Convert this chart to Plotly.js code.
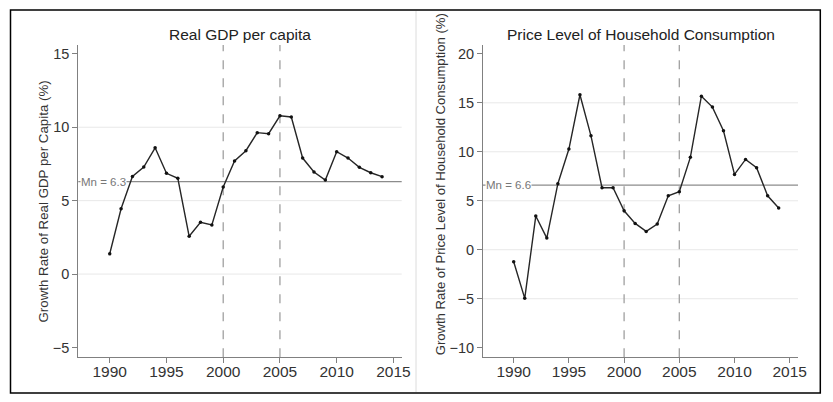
<!DOCTYPE html>
<html>
<head>
<meta charset="utf-8">
<script src="https://cdn.plot.ly/plotly-3.0.1.min.js"></script>
<style>html,body{margin:0;padding:0;background:#fff;}#chart{width:833px;height:402px;}</style>
</head>
<body>
<div id="chart"></div>
<script>
// ---- data ----
const years = [1990,1991,1992,1993,1994,1995,1996,1997,1998,1999,2000,2001,2002,2003,2004,2005,2006,2007,2008,2009,2010,2011,2012,2013,2014];
const gdpGrowth = [1.38,4.45,6.65,7.29,8.6,6.86,6.52,2.57,3.52,3.34,5.93,7.70,8.40,9.63,9.56,10.78,10.7,7.9,6.95,6.4,8.33,7.9,7.27,6.9,6.63];
const priceGrowth = [-1.22,-4.96,3.44,1.19,6.74,10.28,15.82,11.63,6.33,6.33,3.98,2.69,1.87,2.62,5.51,5.92,9.43,15.68,14.56,12.14,7.69,9.22,8.37,5.51,4.26];
const gdpMean = 6.3;
const priceMean = 6.6;
const markerYears = [2000, 2005];
const xTicks = [1990,1995,2000,2005,2010,2015];
const gdpTicks = [-5,0,5,10,15];
const gdpGrid = [0,5,10];
const priceTicks = [-10,-5,0,5,10,15,20];
const priceGrid = [-5,0,5,10,15];
const panelTitles = ["Real GDP per capita", "Price Level of Household Consumption"];
const yTitles = ["Growth Rate of Real GDP per Capita (%)", "Growth Rate of Price Level of Household Consumption (%)"];

// ---- layout ----
const W = 833, H = 402;
const px = v => v / W, py = v => 1 - v / H;
const font = "Liberation Sans, Arial, Helvetica, sans-serif";
const axisCol = "#808080";

function lineTrace(y, xa, ya) {
  return {x: years, y: y, xaxis: xa, yaxis: ya, type: "scatter", mode: "lines+markers",
    line: {color: "#262626", width: 1.4}, marker: {color: "#111", size: 3.5}, hoverinfo: "x+y", showlegend: false};
}
const traces = [lineTrace(gdpGrowth, "x", "y"), lineTrace(priceGrowth, "x2", "y2")];

function xax(domain) {
  return {domain: domain, tickvals: xTicks, ticks: "outside", ticklen: 5, tickcolor: axisCol, tickwidth: 1,
    showline: true, linecolor: axisCol, linewidth: 1, showgrid: false, zeroline: false, ticklabelstandoff: -5,
    tickfont: {family: font, size: 15.5, color: "#333"}, fixedrange: true};
}
function yax(range, ticks, anchor) {
  return {domain: [py(357.3), py(45)], range: range, tickvals: ticks, ticks: "outside", ticklen: 5, tickcolor: axisCol,
    showline: true, linecolor: axisCol, linewidth: 1, showgrid: false, zeroline: false, anchor: anchor,
    tickfont: {family: font, size: 14.5, color: "#333"}, fixedrange: true};
}

const shapes = [];
const annotations = [];
function panel(xr, yr, grid, mean, meanLabel) {
  grid.forEach(g => shapes.push({type: "line", xref: xr + " domain", yref: yr, x0: 0, x1: 1, y0: g, y1: g,
    line: {color: "#e8e8e8", width: 1}, layer: "below"}));
  shapes.push({type: "line", xref: xr + " domain", yref: yr, x0: 0, x1: 1, y0: mean, y1: mean,
    line: {color: "#8c8c8c", width: 1.2}, layer: "below"});
  markerYears.forEach(m => shapes.push({type: "line", xref: xr, yref: yr + " domain", x0: m, x1: m, y0: 0, y1: 1,
    line: {color: "#a0a0a0", width: 1.3, dash: "dash"}, layer: "below"}));
  annotations.push({xref: xr + " domain", yref: yr, x: 0.005, y: mean, text: meanLabel, showarrow: false,
    xanchor: "left", yanchor: "middle", bgcolor: "#fff", borderpad: 0,
    font: {family: font, size: 11.5, color: "#777"}});
}
panel("x", "y", gdpGrid, gdpMean, "Mn = " + gdpMean.toFixed(1));
panel("x2", "y2", priceGrid, priceMean, "Mn = " + priceMean.toFixed(1));

// frame and separator
shapes.push({type: "rect", xref: "paper", yref: "paper", x0: px(10.5), x1: px(820.3), y0: py(393), y1: py(10),
  line: {color: "#000", width: 1.5}});
shapes.push({type: "line", xref: "paper", yref: "paper", x0: px(416), x1: px(416), y0: py(392), y1: py(11),
  line: {color: "#dcdcdc", width: 1}});

// panel titles
annotations.push({xref: "paper", yref: "paper", x: px(240), y: py(34.5), text: panelTitles[0], showarrow: false,
  xanchor: "center", yanchor: "middle", font: {family: font, size: 15.5, color: "#222"}});
annotations.push({xref: "paper", yref: "paper", x: px(640.5), y: py(34.5), text: panelTitles[1], showarrow: false,
  xanchor: "center", yanchor: "middle", font: {family: font, size: 15.5, color: "#222"}});
// y-axis titles
annotations.push({xref: "paper", yref: "paper", x: px(43), y: py(201.5), text: yTitles[0], showarrow: false,
  textangle: -90, xanchor: "center", yanchor: "middle", font: {family: font, size: 13.3, color: "#333"}});
annotations.push({xref: "paper", yref: "paper", x: px(440.3), y: py(184), text: yTitles[1], showarrow: false,
  textangle: -90, xanchor: "center", yanchor: "middle", font: {family: font, size: 13.1, color: "#333"}});

const layout = {
  width: W, height: H, margin: {l: 0, r: 0, t: 0, b: 0}, paper_bgcolor: "#fff", plot_bgcolor: "#fff",
  showlegend: false,
  xaxis: Object.assign(xax([px(78.3), px(401.7)]), {range: [1987.23, 2015.73], anchor: "y"}),
  yaxis: yax([-5.67, 15.6], gdpTicks, "x"),
  xaxis2: Object.assign(xax([px(483), px(798)]), {range: [1987.22, 2015.75], anchor: "y2"}),
  yaxis2: yax([-10.98, 20.9], priceTicks, "x2"),
  shapes: shapes, annotations: annotations
};
Plotly.newPlot("chart", traces, layout, {displayModeBar: false, staticPlot: true});
</script>
</body>
</html>
